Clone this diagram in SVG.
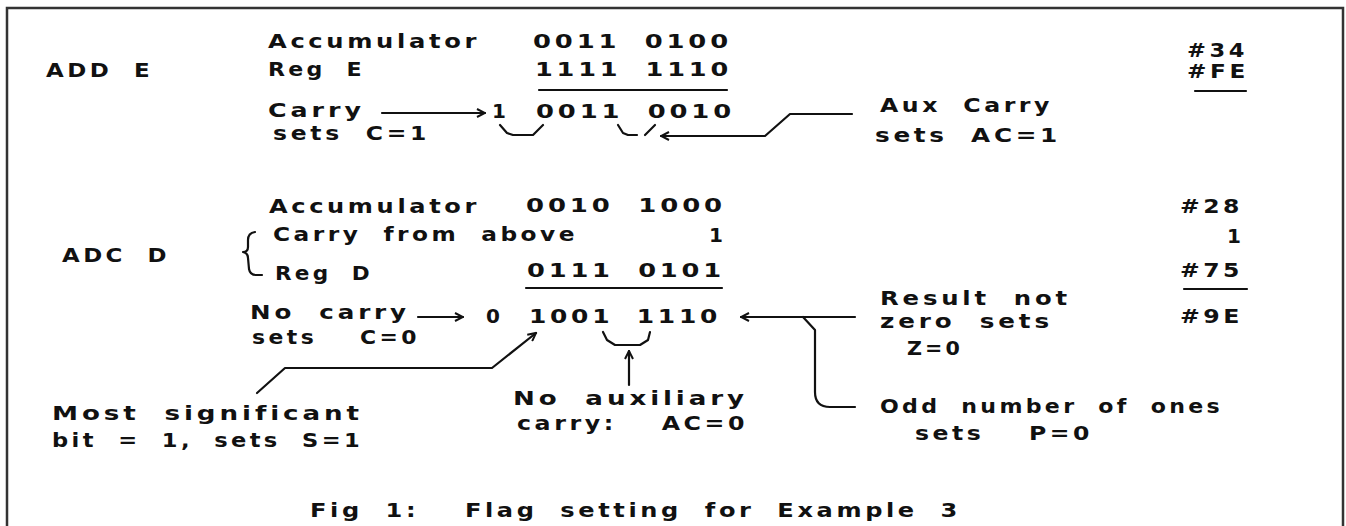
<svg xmlns="http://www.w3.org/2000/svg" width="1346" height="526" viewBox="0 0 1346 526">
<style>
text{font-family:"DejaVu Sans","Liberation Sans",sans-serif;font-weight:bold;font-size:20px;letter-spacing:3px;word-spacing:9px;fill:#111;white-space:pre}
.sm{font-size:19px}
.ln{fill:none;stroke:#111;stroke-width:2.2;stroke-linecap:round;stroke-linejoin:round}
.ar{marker-end:url(#ah)}
</style>
<defs>
<marker id="ah" viewBox="0 0 10 10" refX="9" refY="5" markerWidth="10" markerHeight="10" markerUnits="userSpaceOnUse" orient="auto">
<path d="M1,1 L9,5 L1,9" fill="none" stroke="#111" stroke-width="2"/>
</marker>
</defs>
<rect x="0" y="0" width="1346" height="526" fill="#fff"/>
<rect id="frame" x="7" y="8" width="1336" height="530" fill="none" stroke="#333" stroke-width="2.5"/>

<g id="add-e">
<text x="46" y="77" textLength="107" lengthAdjust="spacingAndGlyphs">ADD E</text>
<text x="268" y="48" textLength="212" lengthAdjust="spacingAndGlyphs">Accumulator</text>
<text x="533" y="48" textLength="199" lengthAdjust="spacingAndGlyphs">0011 0100</text>
<text x="268" y="76" textLength="97" lengthAdjust="spacingAndGlyphs">Reg E</text>
<text x="535" y="76" textLength="197" lengthAdjust="spacingAndGlyphs">1111 1110</text>
<text class="sm" x="1187" y="57" textLength="61" lengthAdjust="spacingAndGlyphs">#34</text>
<text class="sm" x="1187" y="78" textLength="62" lengthAdjust="spacingAndGlyphs">#FE</text>
<text class="sm" x="268" y="117" textLength="97" lengthAdjust="spacingAndGlyphs">Carry</text>
<text class="sm" x="273" y="140" textLength="157" lengthAdjust="spacingAndGlyphs">sets C=1</text>
<text x="492" y="118">1</text>
<text x="536" y="118" textLength="199" lengthAdjust="spacingAndGlyphs">0011 0010</text>
<text x="880" y="112" textLength="173" lengthAdjust="spacingAndGlyphs">Aux Carry</text>
<text x="875" y="142" textLength="186" lengthAdjust="spacingAndGlyphs">sets AC=1</text>
</g>

<g id="adc-d">
<text x="269" y="213" textLength="211" lengthAdjust="spacingAndGlyphs">Accumulator</text>
<text x="526" y="212" textLength="200" lengthAdjust="spacingAndGlyphs">0010 1000</text>
<text x="1180" y="213" textLength="63" lengthAdjust="spacingAndGlyphs">#28</text>
<text x="62" y="262" textLength="108" lengthAdjust="spacingAndGlyphs">ADC D</text>
<text x="273" y="241" textLength="305" lengthAdjust="spacingAndGlyphs">Carry from above</text>
<text x="709" y="242">1</text>
<text x="1227" y="243">1</text>
<text x="275" y="280" textLength="98" lengthAdjust="spacingAndGlyphs">Reg D</text>
<text x="527" y="277" textLength="198" lengthAdjust="spacingAndGlyphs">0111 0101</text>
<text x="1180" y="277" textLength="63" lengthAdjust="spacingAndGlyphs">#75</text>
<text class="sm" x="250" y="319" textLength="160" lengthAdjust="spacingAndGlyphs">No carry</text>
<text class="sm" x="252" y="344" textLength="168" lengthAdjust="spacingAndGlyphs">sets  C=0</text>
<text x="486" y="323">0</text>
<text x="529" y="323" textLength="192" lengthAdjust="spacingAndGlyphs">1001 1110</text>
<text x="1180" y="323" textLength="63" lengthAdjust="spacingAndGlyphs">#9E</text>
<text class="sm" x="880" y="305" textLength="191" lengthAdjust="spacingAndGlyphs">Result not</text>
<text class="sm" x="880" y="328" textLength="173" lengthAdjust="spacingAndGlyphs">zero sets</text>
<text x="907" y="355" textLength="56" lengthAdjust="spacingAndGlyphs">Z=0</text>
</g>

<g id="notes">
<text x="52" y="420" textLength="311" lengthAdjust="spacingAndGlyphs">Most significant</text>
<text x="52" y="447" textLength="311" lengthAdjust="spacingAndGlyphs">bit = 1, sets S=1</text>
<text x="513" y="405" textLength="235" lengthAdjust="spacingAndGlyphs">No auxiliary</text>
<text x="517" y="430" textLength="231" lengthAdjust="spacingAndGlyphs">carry:  AC=0</text>
<text x="880" y="413" textLength="343" lengthAdjust="spacingAndGlyphs">Odd number of ones</text>
<text x="915" y="440" textLength="178" lengthAdjust="spacingAndGlyphs">sets  P=0</text>
</g>

<g id="caption">
<text x="310" y="517" textLength="651" lengthAdjust="spacingAndGlyphs">Fig 1:  Flag setting for Example 3</text>
</g>

<g id="connectors">
<line class="ln" x1="539" y1="90" x2="727" y2="90"/>
<line class="ln" x1="1195" y1="91" x2="1246" y2="91"/>
<line class="ln" x1="526" y1="288" x2="722" y2="288"/>
<line class="ln" x1="1184" y1="289" x2="1247" y2="289"/>
<path class="ln ar" d="M382,113 L485,113"/>
<path class="ln" d="M500,125 L507,133 L513,135 L533,135 L543,125"/>
<path class="ln" d="M618,125 L623,133 L628,135 L637,135"/>
<path class="ln" d="M645,135 L655,125"/>
<path class="ln ar" d="M852,114 L790,114 L765,136 L661,136"/>
<path class="ln" d="M255,232 Q248,233 248,240 L248,247 Q248,252 243,252 Q248,253 248,258 L249,269 Q250,275 256,275 L262,275"/>
<path class="ln ar" d="M418,317 L463,317"/>
<path class="ln ar" d="M855,317 L741,317"/>
<path class="ln" d="M803,317 L815,330 L815,392 Q815,407 830,407 L855,407"/>
<path class="ln" d="M603,332 L607,340 L615,345 L640,345 L648,340 L650,332"/>
<path class="ln ar" d="M629,385 L629,351"/>
<path class="ln ar" d="M257,393 L285,368 L492,368 L536,333"/>
</g>
</svg>
